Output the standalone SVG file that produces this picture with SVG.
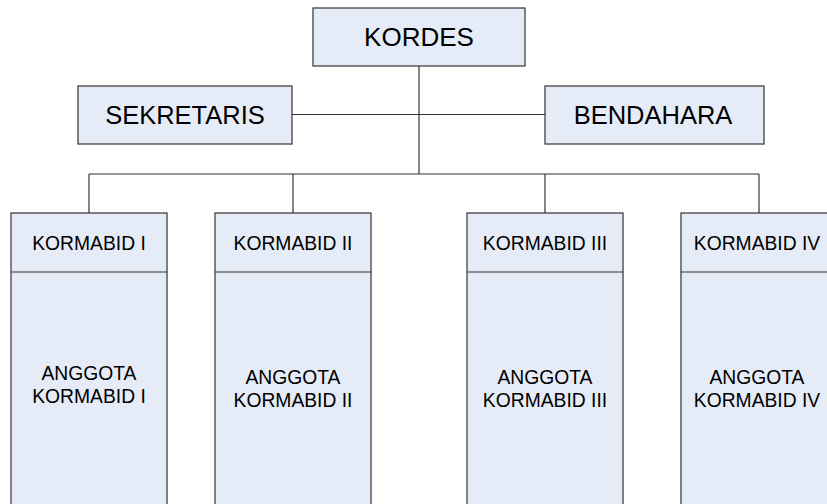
<svg xmlns="http://www.w3.org/2000/svg" width="827" height="504" viewBox="0 0 827 504">
<style>
.box{fill:#E6ECF7;stroke:#333333;stroke-width:1.2}
.ln{stroke:#333333;stroke-width:1.2;fill:none}
.big{font-family:"Liberation Sans",Arial,sans-serif;font-size:25.5px;fill:#000;text-anchor:middle}
.sm{font-family:"Liberation Sans",Arial,sans-serif;font-size:19.3px;fill:#000;text-anchor:middle}
</style>
<rect width="827" height="504" fill="#ffffff"/>
<g id="connectors">
<line class="ln" x1="419" y1="66" x2="419" y2="174"/>
<line class="ln" x1="292" y1="114.5" x2="545" y2="114.5"/>
<line class="ln" x1="89" y1="174" x2="759" y2="174"/>
<line class="ln" x1="89" y1="174" x2="89" y2="213"/>
<line class="ln" x1="293" y1="174" x2="293" y2="213"/>
<line class="ln" x1="545" y1="174" x2="545" y2="213"/>
<line class="ln" x1="759" y1="174" x2="759" y2="213"/>
</g>
<g id="kordes">
<rect class="box" x="313" y="8" width="212" height="58"/>
<text class="big" x="419" y="46" style="font-size:26px">KORDES</text>
</g>
<g id="sekretaris">
<rect class="box" x="78" y="86" width="214" height="58"/>
<text class="big" x="185" y="123.5">SEKRETARIS</text>
</g>
<g id="bendahara">
<rect class="box" x="545" y="86" width="219" height="58"/>
<text class="big" x="653" y="123.5">BENDAHARA</text>
</g>
<g id="kormabid1">
<rect class="box" x="11" y="213" width="156" height="300"/>
<line class="ln" x1="11" y1="272" x2="167" y2="272"/>
<text class="sm" x="89" y="249.5">KORMABID I</text>
<text class="sm" x="89" y="380">ANGGOTA</text>
<text class="sm" x="89" y="403">KORMABID I</text>
</g>
<g id="kormabid2">
<rect class="box" x="215" y="213" width="156" height="300"/>
<line class="ln" x1="215" y1="272" x2="371" y2="272"/>
<text class="sm" x="293" y="249.5">KORMABID II</text>
<text class="sm" x="293" y="384">ANGGOTA</text>
<text class="sm" x="293" y="407">KORMABID II</text>
</g>
<g id="kormabid3">
<rect class="box" x="467" y="213" width="156" height="300"/>
<line class="ln" x1="467" y1="272" x2="623" y2="272"/>
<text class="sm" x="545" y="249.5">KORMABID III</text>
<text class="sm" x="545" y="384">ANGGOTA</text>
<text class="sm" x="545" y="407">KORMABID III</text>
</g>
<g id="kormabid4">
<rect class="box" x="681" y="213" width="156" height="300"/>
<line class="ln" x1="681" y1="272" x2="837" y2="272"/>
<text class="sm" x="757" y="249.5">KORMABID IV</text>
<text class="sm" x="757" y="384">ANGGOTA</text>
<text class="sm" x="757" y="407">KORMABID IV</text>
</g>
</svg>
